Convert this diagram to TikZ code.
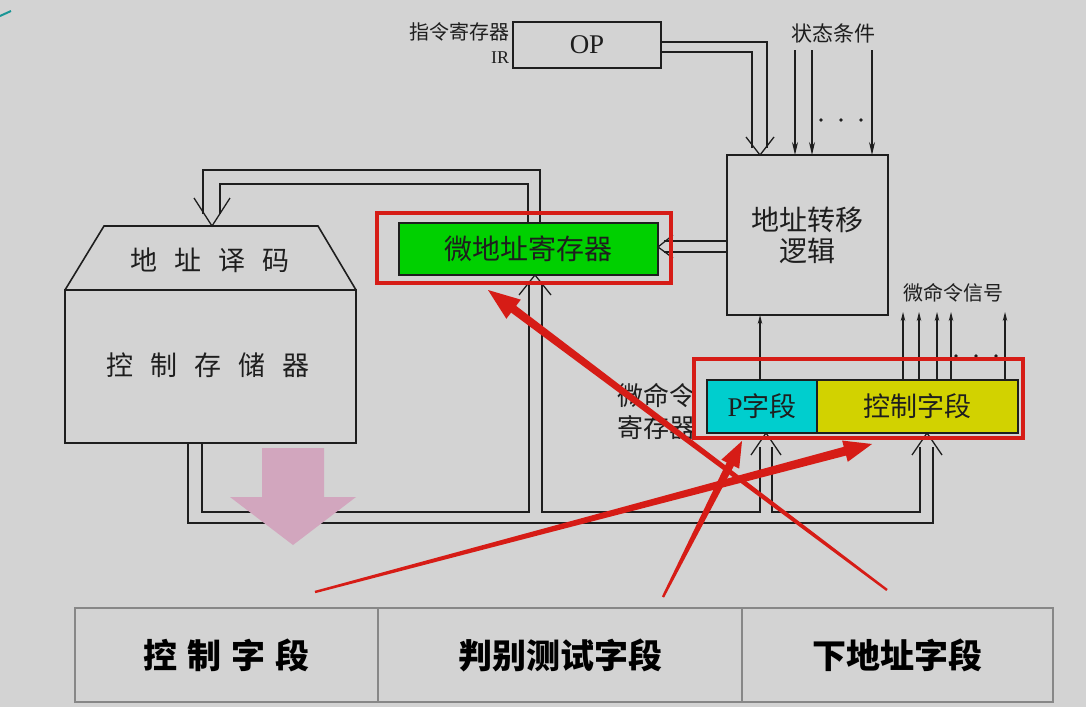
\documentclass[tikz,border=0pt]{standalone}
\usepackage{fontspec}
\setmainfont{Liberation Serif}
\newfontfamily\cjk{Noto Sans CJK SC}
\usetikzlibrary{calc,arrows.meta}
\definecolor{bg}{RGB}{211,211,211}
\definecolor{ink}{RGB}{30,30,30}
\definecolor{annot}{RGB}{214,28,22}
\definecolor{grn}{RGB}{0,208,0}
\definecolor{cyn}{RGB}{0,206,206}
\definecolor{ylw}{RGB}{210,210,0}
\definecolor{pinkarr}{RGB}{210,166,190}
\definecolor{tealmark}{RGB}{25,150,150}
\definecolor{tblline}{RGB}{135,135,135}
\newcommand{\setfs}[2]{\fontsize{#1pt}{#2pt}\selectfont}
\newcommand{\taperarrow}[5]{%
  \path ($(#2)!#3!(#1)$) coordinate (hb);
  \fill[annot] ($(#1)!1.2pt!90:(#2)$) -- ($(hb)!#4!90:(#2)$) -- ($(hb)!#5!90:(#2)$) -- (#2)
    -- ($(hb)!#5!-90:(#2)$) -- ($(hb)!#4!-90:(#2)$) -- ($(#1)!1.2pt!-90:(#2)$) -- cycle;}
\begin{document}
\begin{tikzpicture}[x=1pt,y=-1pt,
  every node/.style={inner sep=0pt, outer sep=0pt, text=ink},
  wire/.style={draw=ink, line width=1.3pt},
  blk/.style={draw=ink, line width=1.6pt, rectangle},
  sig/.style={draw=ink, line width=1.3pt, -{Stealth[length=13pt,width=6pt]}},
  sigs/.style={draw=ink, line width=1.2pt, -{Stealth[length=9pt,width=4.5pt]}},
  redframe/.style={draw=annot, line width=3.1pt},
  cell/.style={draw=tblline, line width=1.2pt, minimum height=94pt, font={\cjk\bfseries\setfs{34}{36}}, text=black}]
\fill[bg] (0,0) rectangle (1086,707);
\useasboundingbox (0,0) rectangle (1086,707);
\draw[tealmark, line width=2pt] (0,16) -- (11,11);

% instruction register
\node[blk, minimum width=148pt, minimum height=46pt, font=\setfs{27}{30}] (op) at (587,45) {OP};
\node[anchor=east, font={\cjk\setfs{20}{22}}] (irlabel) at (509,32) {指令寄存器};
\node[anchor=east, font=\setfs{18}{20}] (irname) at (509,58) {IR};

% address transfer logic
\node[blk, minimum width=161pt, minimum height=160pt, align=center, font={\cjk\setfs{28}{31}}] (logic) at (807.5,235) {地址转移\\逻辑};

% status conditions
\node[font={\cjk\setfs{21}{24}}] (cond) at (833,33) {状态条件};
\foreach \x in {795,812,872} \draw[sig] (\x,50) -- (\x,50 |- logic.north);
\foreach \x in {821,841,861} \fill[ink] (\x,120) circle (1.8pt);

% OP -> logic (bus)
\draw[wire] ([yshift=3pt]op.east) -| (767,148);
\draw[wire] ([yshift=-7pt]op.east) -| (752,148);
\coordinate (opin) at (760,155);
\draw[wire] ([shift={(-14,-18)}]opin) -- (opin) -- ([shift={(14,-18)}]opin);

% micro address register
\node[blk, fill=grn, minimum width=259pt, minimum height=52pt, font={\cjk\setfs{28}{30}}] (uar) at (528.5,249) {微地址寄存器};

% logic -> uar (bus)
\draw[wire] ([yshift=-6pt]logic.west) -- ([xshift=6pt,yshift=8pt]uar.east);
\draw[wire] ([yshift=-17pt]logic.west) -- ([xshift=6pt,yshift=-3pt]uar.east);
\coordinate (uarin) at ([yshift=2pt]uar.east);
\draw[wire] ([shift={(15,-12)}]uarin) -- (uarin) -- ([shift={(15,11)}]uarin);

% control store
\node[blk, minimum width=291pt, minimum height=153pt] (cs) at (210.5,366.5) {};
\draw[blk] (cs.north west) -- (104,226) -- (318,226) -- (cs.north east);
\node[font={\cjk\setfs{27}{30}}] (dectext) at (210,260) {地\hspace{17pt}址\hspace{17pt}译\hspace{17pt}码};
\node[font={\cjk\setfs{27}{30}}] (cstext) at (208,365) {控\hspace{17pt}制\hspace{17pt}存\hspace{17pt}储\hspace{17pt}器};

% uar -> decoder (bus)
\draw[wire] ([xshift=11.5pt]uar.north) |- (203,170) -- (203,214);
\draw[wire] ([xshift=-0.5pt]uar.north) |- (220,184) -- (220,214);
\coordinate (decin) at (212,226);
\draw[wire] ([shift={(-18,-28)}]decin) -- (decin) -- ([shift={(18,-28)}]decin);

% micro instruction register
\node[blk, fill=cyn, minimum width=110pt, minimum height=53pt, font=\setfs{27}{30}] (pf) at (762,406.5) {P{\cjk 字段}};
\node[blk, fill=ylw, minimum width=201pt, minimum height=53pt, font={\cjk\setfs{27}{30}}] (cf) at (917.5,406.5) {控制字段};
\node[anchor=east, align=right, font={\cjk\setfs{26}{32}}] (mirlabel) at (695,411) {微命令\\寄存器};

% P field -> logic
\draw[sigs] (pf.north -| 760,0) -- (logic.south -| 760,0);

% micro command signals
\foreach \x in {903,919,937,951,1005} \draw[sigs] (\x,0 |- cf.north) -- (\x,312);
\foreach \x in {956,976,996} \fill[ink] (\x,356) circle (1.8pt);
\node[font={\cjk\setfs{20}{22}}] (msig) at (953,293) {微命令信号};

% buses from control store
\draw[wire] (cs.south -| 202,0) |- (529,512) -- (529,285);
\draw[wire] (542,285) |- (760,512) -- (760,447);
\draw[wire] (772,447) |- (920,512) -- (920,447);
\draw[wire] (cs.south -| 188,0) |- (933,523) -- (933,447);
\coordinate (uarbot) at (535,275);
\draw[wire] ([shift={(-16,20)}]uarbot) -- (uarbot) -- ([shift={(16,20)}]uarbot);
\coordinate (pfbot) at (766,433);
\draw[wire] ([shift={(-15,22)}]pfbot) -- (pfbot) -- ([shift={(15,22)}]pfbot);
\coordinate (cfbot) at (927,433);
\draw[wire] ([shift={(-15,22)}]cfbot) -- (cfbot) -- ([shift={(15,22)}]cfbot);

% pink arrow
\fill[pinkarr] (262,448) -- (324,448) -- (324,497) -- (356,497) -- (293,545) -- (230,497) -- (262,497) -- cycle;

% bottom table
\node[cell, minimum width=303pt] (t1) at (226.5,655) {控\hspace{10pt}制\hspace{10pt}字\hspace{10pt}段};
\node[cell, minimum width=364pt] (t2) at (560,655) {判别测试字段};
\node[cell, minimum width=311pt] (t3) at (897.5,655) {下地址字段};

% red frames
\draw[redframe] ([shift={(-22,-10)}]uar.north west) rectangle ([shift={(13,8)}]uar.south east);
\draw[redframe] ([shift={(-13,-21)}]pf.north west) rectangle ([shift={(5,5)}]cf.south east);

% red annotation arrows
\coordinate (r1t) at (887,590); \coordinate (r1h) at (488,290);
\coordinate (r2t) at (315,592); \coordinate (r2h) at (872,444);
\coordinate (r3t) at (663,597); \coordinate (r3h) at (742,441);
\taperarrow{r1t}{r1h}{32pt}{4.2pt}{12pt}
\taperarrow{r2t}{r2h}{28pt}{4.5pt}{11pt}
\taperarrow{r3t}{r3h}{26pt}{4pt}{10pt}
\end{tikzpicture}
\end{document}
